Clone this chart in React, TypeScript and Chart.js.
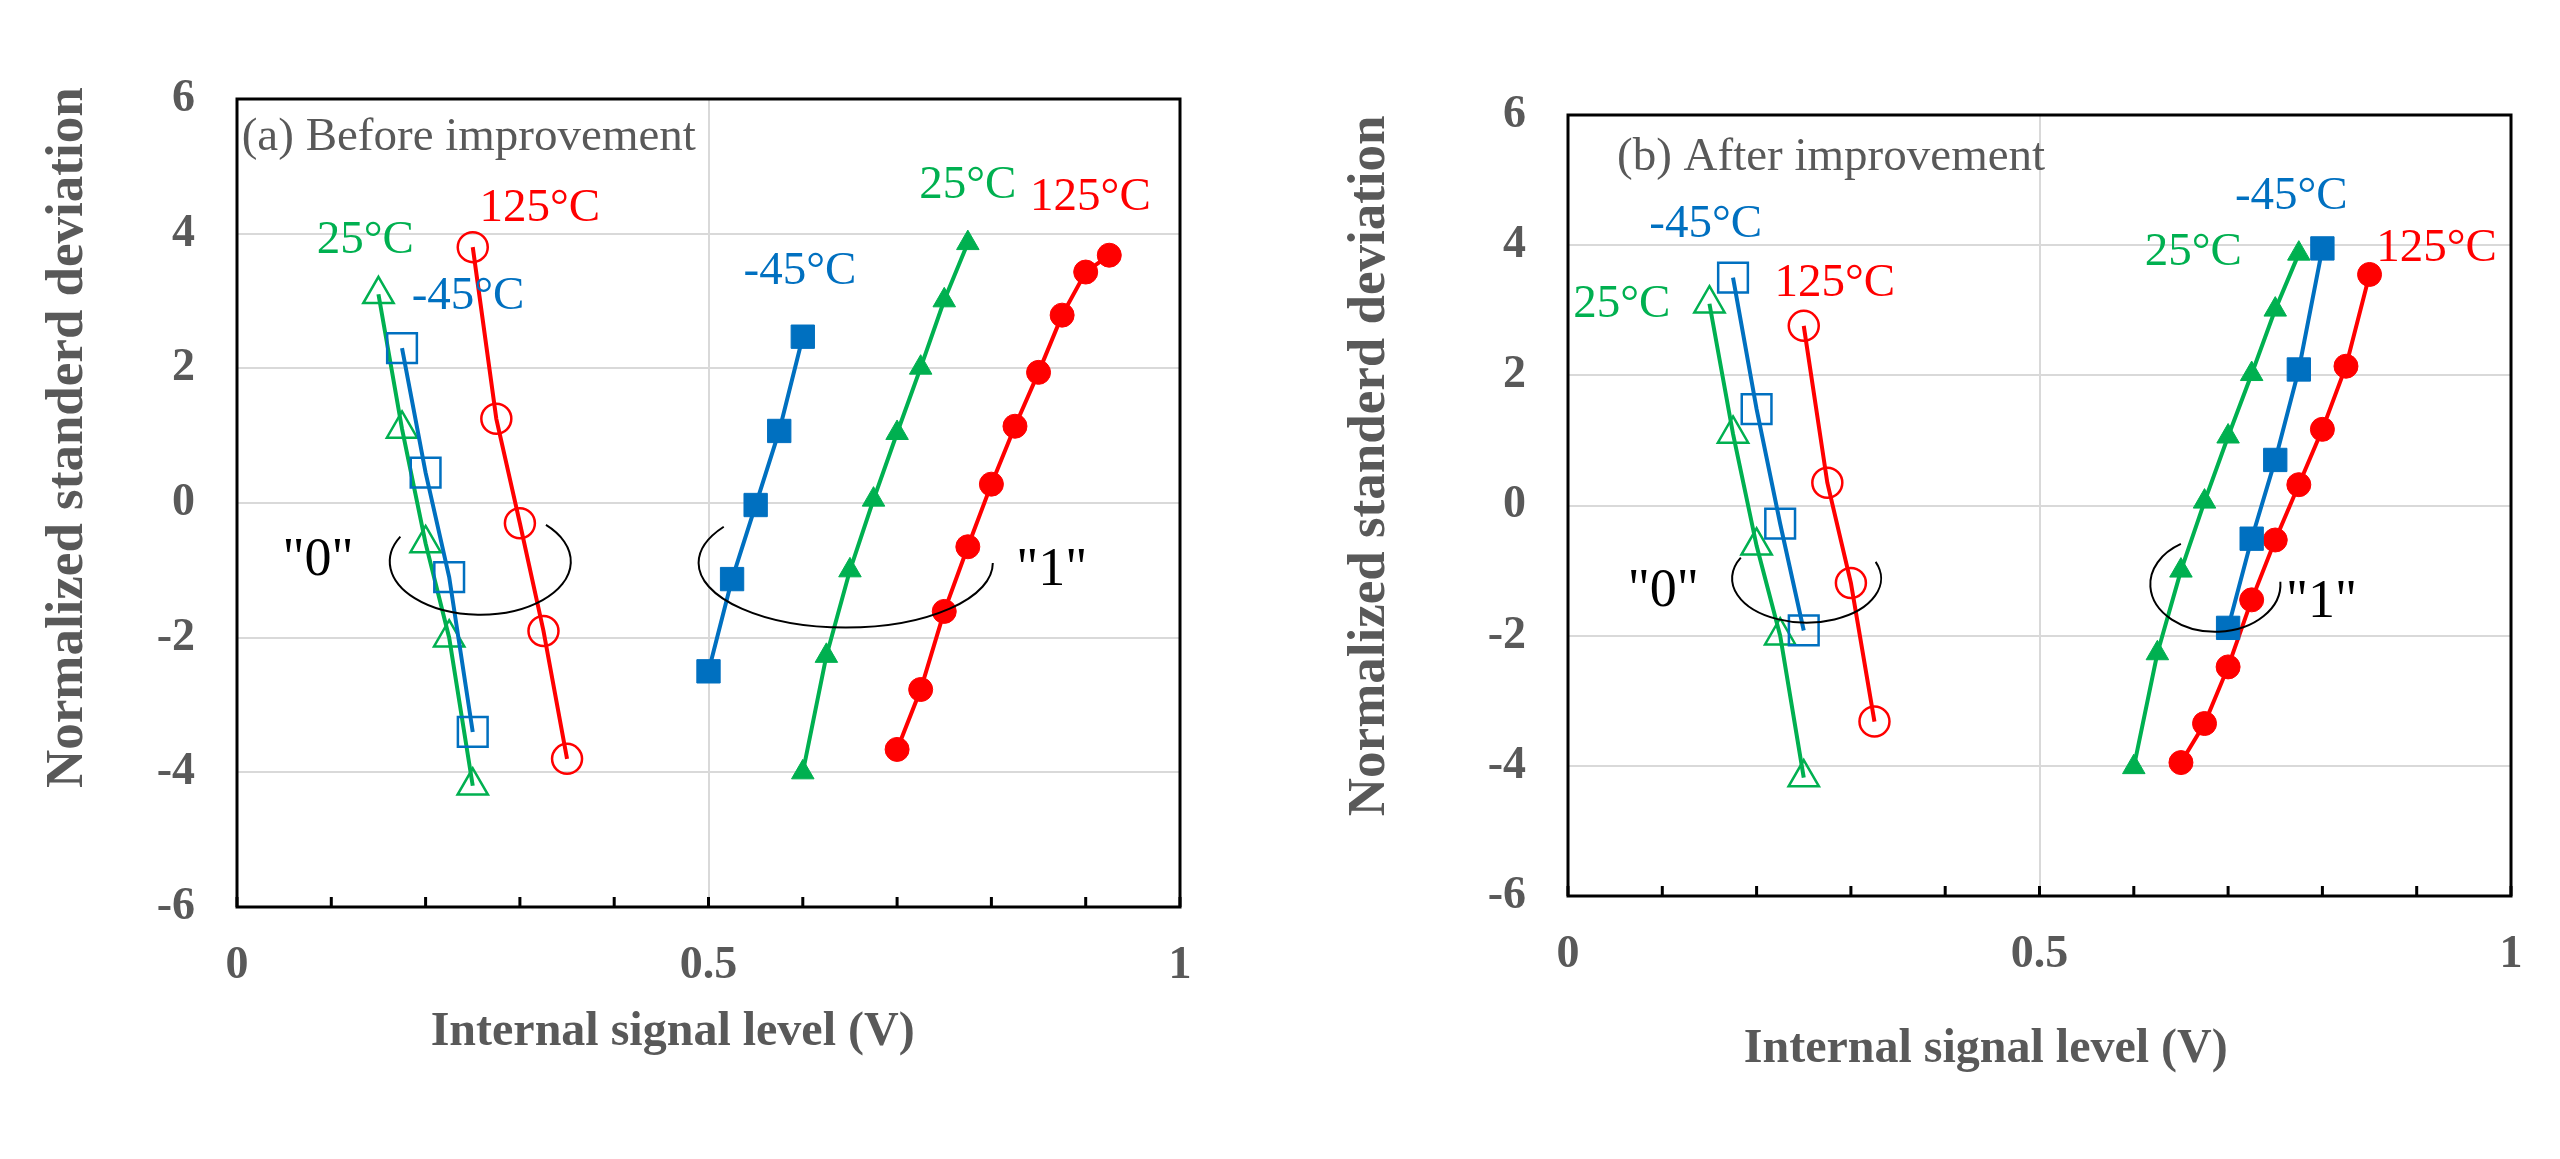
import React, { useEffect, useRef } from "react";
import { Chart, registerables } from "chart.js";

Chart.register(...registerables);

// (a) Before improvement: internal signal level (V) vs normalized standard deviation
const beforeZeroM45X = [0.175, 0.2, 0.225, 0.25];
const beforeZeroM45Y = [2.3, 0.45, -1.1, -3.4];
const beforeZero25X = [0.15, 0.175, 0.2, 0.225, 0.25];
const beforeZero25Y = [3.1, 1.1, -0.6, -2.0, -4.2];
const beforeZero125X = [0.25, 0.275, 0.3, 0.325, 0.35];
const beforeZero125Y = [3.8, 1.25, -0.3, -1.9, -3.8];
const beforeOneM45X = [0.5, 0.525, 0.55, 0.575, 0.6];
const beforeOneM45Y = [-2.5, -1.13, -0.03, 1.07, 2.47];
const beforeOne25X = [0.6, 0.625, 0.65, 0.675, 0.7, 0.725, 0.75, 0.775];
const beforeOne25Y = [-4.0, -2.27, -1.0, 0.05, 1.04, 2.01, 3.01, 3.86];
const beforeOne125X = [0.7, 0.725, 0.75, 0.775, 0.8, 0.825, 0.85, 0.875, 0.9, 0.925];
const beforeOne125Y = [-3.66, -2.77, -1.61, -0.65, 0.28, 1.14, 1.94, 2.79, 3.43, 3.68];

// (b) After improvement
const afterZeroM45X = [0.175, 0.2, 0.225, 0.25];
const afterZeroM45Y = [3.5, 1.48, -0.28, -1.92];
const afterZero25X = [0.15, 0.175, 0.2, 0.225, 0.25];
const afterZero25Y = [3.1, 1.1, -0.62, -2.0, -4.18];
const afterZero125X = [0.25, 0.275, 0.3, 0.325];
const afterZero125Y = [2.76, 0.35, -1.19, -3.32];
const afterOneM45X = [0.7, 0.725, 0.75, 0.775, 0.8];
const afterOneM45Y = [-1.88, -0.51, 0.7, 2.09, 3.95];
const afterOne25X = [0.6, 0.625, 0.65, 0.675, 0.7, 0.725, 0.75, 0.775];
const afterOne25Y = [-4.02, -2.27, -1.0, 0.06, 1.06, 2.02, 3.01, 3.87];
const afterOne125X = [0.65, 0.675, 0.7, 0.725, 0.75, 0.775, 0.8, 0.825, 0.85];
const afterOne125Y = [-3.95, -3.35, -2.48, -1.45, -0.53, 0.32, 1.17, 2.14, 3.55];

// axes
const xTicks = [0, 0.1, 0.2, 0.3, 0.4, 0.5, 0.6, 0.7, 0.8, 0.9, 1];
const xTickLabels = [0, 0.5, 1];
const yTicks = [-6, -4, -2, 0, 2, 4, 6];
const xTitle = "Internal signal level (V)";
const yTitle = "Normalized standerd deviation";

const SERIF = '"Liberation Serif", "Times New Roman", serif';
const GREEN = "#00B050";
const BLUE = "#0070C0";
const RED = "#FF0000";
const GRAY = "#595959";
const GRID = "#D9D9D9";
const W = 1280;
const H = 1159;
const X_AXIS_H = 100;

type Marker = "triangle" | "rect" | "circle";
interface Series { xs: number[]; ys: number[]; color: string; marker: Marker; filled: boolean }
interface Note { text: string; x: number; y: number; color: string }
interface Loop { x: number; y: number; rx: number; ry: number; from: number; to: number }
interface Panel {
  title: string;
  titleX: number;
  titleY: number;
  series: Series[];
  temps: Note[];
  states: Note[];
  loops: Loop[];
  left: number;
  top: number;
  right: number;
  bottom: number;
  xTitleAt: number;
  xTitleDy: number;
  yTitleAt: number;
  yTitleDx: number;
}

const radius: Record<Marker, [number, number]> = {
  triangle: [17.5, 13],
  rect: [21, 16.5],
  circle: [15, 12],
};

const near = (a: number, b: number) => Math.abs(a - b) < 1e-9;

const beforeSeries: Series[] = [
  { xs: beforeZeroM45X, ys: beforeZeroM45Y, color: BLUE, marker: "rect", filled: false },
  { xs: beforeZero25X, ys: beforeZero25Y, color: GREEN, marker: "triangle", filled: false },
  { xs: beforeZero125X, ys: beforeZero125Y, color: RED, marker: "circle", filled: false },
  { xs: beforeOneM45X, ys: beforeOneM45Y, color: BLUE, marker: "rect", filled: true },
  { xs: beforeOne25X, ys: beforeOne25Y, color: GREEN, marker: "triangle", filled: true },
  { xs: beforeOne125X, ys: beforeOne125Y, color: RED, marker: "circle", filled: true },
];

const afterSeries: Series[] = [
  { xs: afterZeroM45X, ys: afterZeroM45Y, color: BLUE, marker: "rect", filled: false },
  { xs: afterZero25X, ys: afterZero25Y, color: GREEN, marker: "triangle", filled: false },
  { xs: afterZero125X, ys: afterZero125Y, color: RED, marker: "circle", filled: false },
  { xs: afterOneM45X, ys: afterOneM45Y, color: BLUE, marker: "rect", filled: true },
  { xs: afterOne25X, ys: afterOne25Y, color: GREEN, marker: "triangle", filled: true },
  { xs: afterOne125X, ys: afterOne125Y, color: RED, marker: "circle", filled: true },
];

const beforePanel: Panel = {
  title: "(a) Before improvement",
  titleX: 0.005,
  titleY: 5.24,
  series: beforeSeries,
  temps: [
    { text: "125°C", x: 0.321, y: 4.37, color: RED },
    { text: "25°C", x: 0.136, y: 3.89, color: GREEN },
    { text: "-45°C", x: 0.245, y: 3.07, color: BLUE },
    { text: "-45°C", x: 0.597, y: 3.43, color: BLUE },
    { text: "25°C", x: 0.775, y: 4.72, color: GREEN },
    { text: "125°C", x: 0.905, y: 4.54, color: RED },
  ],
  states: [
    { text: '"0"', x: 0.086, y: -0.86, color: "#000" },
    { text: '"1"', x: 0.864, y: -1.01, color: "#000" },
  ],
  loops: [
    { x: 0.258, y: -0.87, rx: 0.096, ry: 0.79, from: -43.5, to: 208 },
    { x: 0.6455, y: -0.89, rx: 0.156, ry: 0.96, from: 0, to: 214 },
  ],
  left: 237,
  top: 99,
  right: 1180,
  bottom: 907,
  xTitleAt: 0.462,
  xTitleDy: 138,
  yTitleAt: 0.97,
  yTitleDx: -168.5,
};

const afterPanel: Panel = {
  title: "(b) After improvement",
  titleX: 0.052,
  titleY: 5.16,
  series: afterSeries,
  temps: [
    { text: "-45°C", x: 0.146, y: 4.31, color: BLUE },
    { text: "25°C", x: 0.057, y: 3.08, color: GREEN },
    { text: "125°C", x: 0.283, y: 3.41, color: RED },
    { text: "-45°C", x: 0.767, y: 4.74, color: BLUE },
    { text: "25°C", x: 0.663, y: 3.88, color: GREEN },
    { text: "125°C", x: 0.921, y: 3.94, color: RED },
  ],
  states: [
    { text: '"0"', x: 0.101, y: -1.32, color: "#000" },
    { text: '"1"', x: 0.799, y: -1.49, color: "#000" },
  ],
  loops: [
    { x: 0.253, y: -1.12, rx: 0.079, ry: 0.68, from: -22, to: 208 },
    { x: 0.6865, y: -1.21, rx: 0.069, ry: 0.73, from: -3, to: 238 },
  ],
  left: 288,
  top: 115,
  right: 1231,
  bottom: 896,
  xTitleAt: 0.443,
  xTitleDy: 166,
  yTitleAt: 0.61,
  yTitleDx: -198,
};

const framePlugin = {
  id: "frame",
  beforeDatasetsDraw(chart: any) {
    const { ctx, chartArea: a } = chart;
    const xs = chart.scales.x;
    ctx.save();
    ctx.strokeStyle = "#000";
    ctx.lineWidth = 3;
    ctx.beginPath();
    xs.ticks.forEach((t: any) => {
      const px = xs.getPixelForValue(t.value);
      ctx.moveTo(px, a.bottom);
      ctx.lineTo(px, a.bottom - 10);
    });
    ctx.stroke();
    ctx.strokeRect(a.left, a.top, a.right - a.left, a.bottom - a.top);
    ctx.restore();
  },
};

const makeNotesPlugin = (p: Panel) => ({
  id: "notes",
  afterDatasetsDraw(chart: any) {
    const { ctx, chartArea: a } = chart;
    const xs = chart.scales.x;
    const ys = chart.scales.y;
    const px = (v: number) => xs.getPixelForValue(v);
    const py = (v: number) => ys.getPixelForValue(v);
    ctx.save();

    ctx.textAlign = "center";
    ctx.textBaseline = "middle";
    ctx.font = `47px ${SERIF}`;
    p.temps.forEach((n) => {
      ctx.fillStyle = n.color;
      ctx.fillText(n.text, px(n.x), py(n.y));
    });
    ctx.font = `54px ${SERIF}`;
    p.states.forEach((n) => {
      ctx.fillStyle = n.color;
      ctx.fillText(n.text, px(n.x), py(n.y));
    });

    ctx.strokeStyle = "#000";
    ctx.lineWidth = 2;
    p.loops.forEach((l) => {
      const cx = px(l.x);
      const cy = py(l.y);
      ctx.beginPath();
      ctx.ellipse(cx, cy, px(l.x + l.rx) - cx, cy - py(l.y + l.ry), 0, (l.from * Math.PI) / 180, (l.to * Math.PI) / 180);
      ctx.stroke();
    });

    // panel caption
    ctx.fillStyle = GRAY;
    ctx.font = `47px ${SERIF}`;
    ctx.textAlign = "left";
    ctx.textBaseline = "alphabetic";
    ctx.fillText(p.title, px(p.titleX), py(p.titleY));

    // axis titles
    ctx.font = `bold 48px ${SERIF}`;
    ctx.textAlign = "center";
    ctx.fillText(xTitle, px(p.xTitleAt), a.bottom + p.xTitleDy);

    ctx.font = `bold 53px ${SERIF}`;
    ctx.textBaseline = "middle";
    ctx.translate(a.left + p.yTitleDx, py(p.yTitleAt));
    ctx.rotate(-Math.PI / 2);
    ctx.fillText(yTitle, 0, 0);

    ctx.restore();
  },
});

const tickFont = { family: SERIF, size: 46, weight: "bold" as const };

const PanelChart: React.FC<{ panel: Panel }> = ({ panel }) => {
  const canvasRef = useRef<HTMLCanvasElement | null>(null);

  useEffect(() => {
    if (!canvasRef.current) return;
    const chart = new Chart(canvasRef.current, {
      type: "scatter",
      data: {
        datasets: panel.series.map((s) => ({
          data: s.xs.map((x, i) => ({ x, y: s.ys[i] })),
          showLine: true,
          borderColor: s.color,
          borderWidth: 4,
          tension: 0,
          pointStyle: s.marker,
          pointRadius: s.filled ? radius[s.marker][1] : radius[s.marker][0],
          pointHoverRadius: s.filled ? radius[s.marker][1] : radius[s.marker][0],
          pointBorderWidth: s.filled ? 1 : 2.5,
          pointBorderColor: s.color,
          pointBackgroundColor: s.filled ? s.color : "rgba(0,0,0,0)",
        })),
      },
      options: {
        responsive: true,
        maintainAspectRatio: false,
        animation: false,
        events: [],
        layout: {
          padding: {
            left: 0,
            top: panel.top,
            right: W - panel.right,
            bottom: H - panel.bottom - X_AXIS_H,
          },
        },
        plugins: {
          legend: { display: false },
          tooltip: { enabled: false },
        },
        scales: {
          x: {
            type: "linear",
            min: 0,
            max: 1,
            afterBuildTicks: (s: any) => {
              s.ticks = xTicks.map((v) => ({ value: v }));
            },
            afterFit: (s: any) => {
              s.height = X_AXIS_H;
            },
            grid: {
              color: (c: any) => (c.tick && near(c.tick.value, 0.5) ? GRID : "rgba(0,0,0,0)"),
              lineWidth: 2,
              drawTicks: false,
            },
            border: { display: false },
            ticks: {
              autoSkip: false,
              maxRotation: 0,
              padding: 32,
              color: GRAY,
              font: tickFont,
              callback: (v: any) => (xTickLabels.some((t) => near(t, Number(v))) ? String(v) : ""),
            },
          },
          y: {
            type: "linear",
            min: -6,
            max: 6,
            afterBuildTicks: (s: any) => {
              s.ticks = yTicks.map((v) => ({ value: v }));
            },
            afterFit: (s: any) => {
              s.width = panel.left;
            },
            grid: { color: GRID, lineWidth: 2, drawTicks: false },
            border: { display: false },
            ticks: {
              padding: 42,
              color: GRAY,
              font: tickFont,
              callback: (v: any) => String(v),
            },
          },
        },
      } as any,
      plugins: [framePlugin, makeNotesPlugin(panel)],
    });
    return () => chart.destroy();
  }, [panel]);

  return (
    <div style={{ width: W, height: H, position: "relative" }}>
      <canvas ref={canvasRef}></canvas>
    </div>
  );
};

export default function App() {
  return (
    <div style={{ position: "absolute", left: 0, top: 0, width: 2560, height: 1159, background: "#fff", display: "flex" }}>
      <PanelChart panel={beforePanel} />
      <PanelChart panel={afterPanel} />
    </div>
  );
}
